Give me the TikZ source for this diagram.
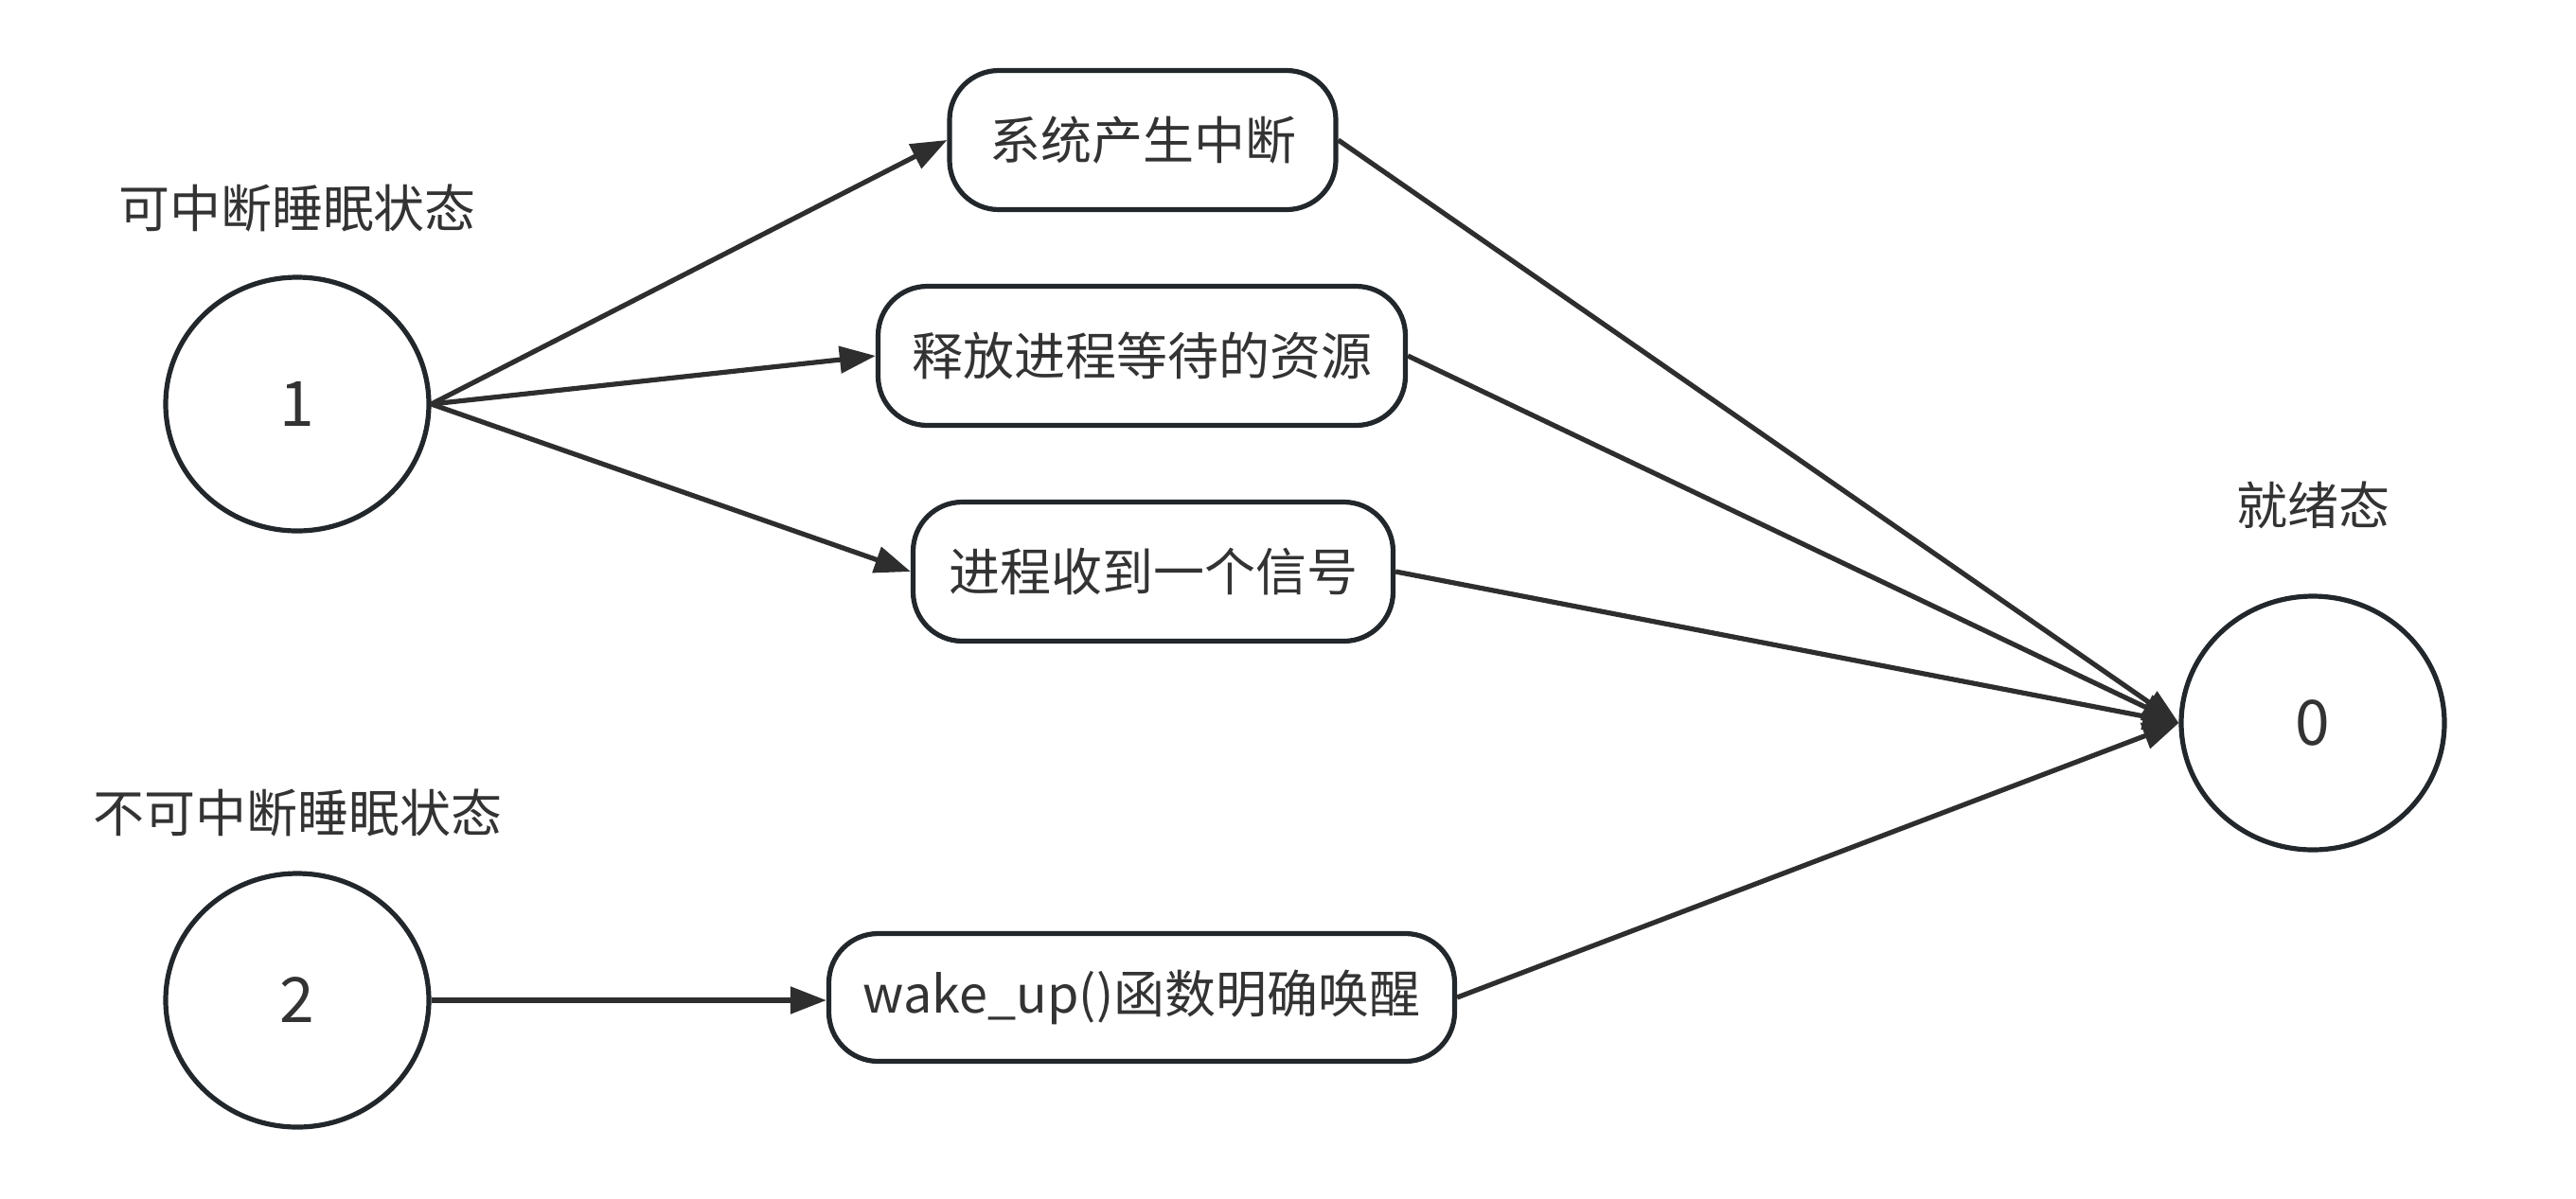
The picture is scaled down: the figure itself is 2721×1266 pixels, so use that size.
\documentclass[tikz,border=0pt]{standalone}
\usepackage{fontspec}
\setmainfont{Noto Sans CJK SC}
\usetikzlibrary{shapes.geometric,arrows.meta}
\definecolor{textc}{HTML}{333333}
\definecolor{linec}{HTML}{22272C}
\definecolor{arrc}{HTML}{2E2E2E}
\begin{document}
\begin{tikzpicture}[x=0.5pt,y=-0.5pt,
  every node/.style={font=\fontsize{27}{32}\selectfont, text=textc},
  state/.style={ellipse,draw=linec,line width=2.6pt,minimum width=139pt,minimum height=134pt,inner sep=0pt,font=\fontsize{33}{38}\selectfont},
  evbox/.style={rectangle,rounded corners=26pt,draw=linec,line width=2.6pt,inner sep=0pt},
  lbl/.style={inner sep=0pt},
  conn/.style={draw=arrc,line width=2.6pt,-{Triangle[length=19pt,width=14pt]}}]
\useasboundingbox (0,0) rectangle (2721,1266);
% states
\node[state] (s1) at (314,427) {1};
\node[state] (s2) at (314,1057) {2};
\node[state] (s0) at (2443,764) {0};
% labels
\node[lbl] (l1) at (314,220) {可中断睡眠状态};
\node[lbl] (l2) at (314,859) {不可中断睡眠状态};
\node[lbl] (l0) at (2443,534) {就绪态};
% event boxes
\node[evbox,minimum width=204pt,minimum height=73.5pt] (b1) at (1207,148) {系统产生中断};
\node[evbox,minimum width=278.5pt,minimum height=73.5pt] (b2) at (1206,376) {释放进程等待的资源};
\node[evbox,minimum width=253.5pt,minimum height=73.5pt] (b3) at (1218,604) {进程收到一个信号};
\node[evbox,minimum width=330.5pt,minimum height=67.5pt] (b4) at (1206,1054) {wake\_up()函数明确唤醒};
% connectors
\draw[conn] (s1.east) -- (b1.west);
\draw[conn] (s1.east) -- (b2.west);
\draw[conn] (s1.east) -- (b3.west);
\draw[conn] (s2.east) -- (s2.east -| b4.west);
\draw[conn] (b1.east) -- (s0.west);
\draw[conn] (b2.east) -- (s0.west);
\draw[conn] (b3.east) -- (s0.west);
\draw[conn] (b4.east) -- (s0.west);
\end{tikzpicture}
\end{document}
